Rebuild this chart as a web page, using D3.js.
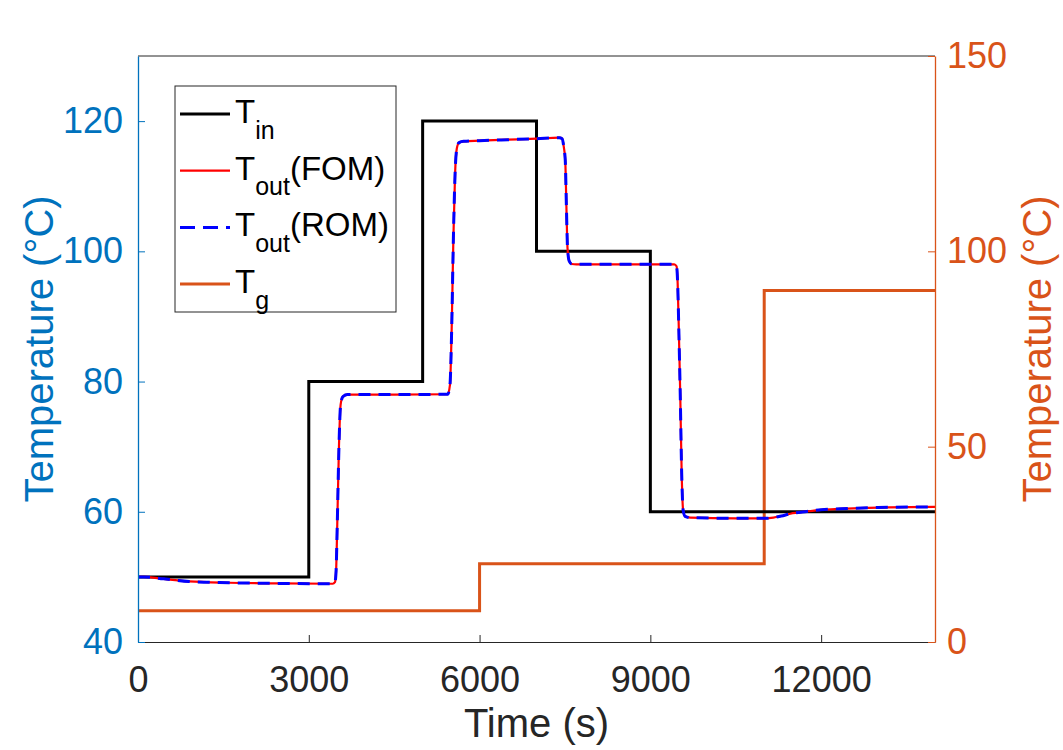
<!DOCTYPE html>
<html>
<head>
<meta charset="utf-8">
<script src="https://cdn.jsdelivr.net/npm/d3@7"></script>
<style>
  html, body { margin: 0; padding: 0; background: #fff; }
  svg { display: block; font-family: "Liberation Sans", Arial, Helvetica, sans-serif; }
</style>
</head>
<body>
<svg id="chart" width="1063" height="750"></svg>
<script>
// ---- data ----
const tinTimes  = [0, 3000, 5000, 7000, 9000, 14000];
const tinValues = [50, 80, 120, 100, 60, 60];

const tgTimes  = [0, 6000, 11000, 14000];
const tgValues = [8, 20, 90, 90];

const toutTimes = [0, 100, 450, 900, 1600, 2500, 3420, 3460, 3480, 3500, 3530, 3560, 3600, 3680,
  4500, 5440, 5480, 5510, 5540, 5570, 5600, 5640, 5720, 6000, 6500, 7000, 7400, 7450, 7480, 7505,
  7525, 7545, 7575, 7620, 7700, 8500, 9420, 9460, 9480, 9500, 9525, 9550, 9575, 9610, 9700,
  10500, 11000, 11160, 11300, 11460, 11750, 12000, 12340, 13000, 14000];
const toutFOM = [50.0, 50.0, 49.7, 49.3, 49.1, 49.0, 48.95, 49.2, 51, 58, 70, 76.5, 77.7, 78.0,
  78.0, 78.05, 79.5, 88, 102, 112, 115.8, 116.7, 116.9, 117.0, 117.15, 117.3, 117.45, 117.3, 116, 114,
  107, 100.5, 98.5, 98.05, 98.0, 98.0, 98.0, 97.7, 95, 88, 78, 66, 60.3, 59.3, 59.1,
  59.0, 59.0, 59.1, 59.35, 59.7, 60.05, 60.3, 60.45, 60.65, 60.75];
const toutROM = [50.0, 50.0, 49.7, 49.3, 49.1, 49.0, 48.95, 49.2, 51, 58, 70, 76.5, 77.7, 78.0,
  78.0, 78.05, 79.5, 88, 102, 112, 115.8, 116.7, 116.9, 117.0, 117.15, 117.3, 117.45, 117.3, 116, 114,
  107, 100.5, 98.5, 98.05, 98.0, 98.0, 98.0, 97.7, 95, 88, 78, 66, 60.3, 59.3, 59.1,
  59.0, 59.0, 59.1, 59.35, 59.7, 60.05, 60.3, 60.45, 60.65, 60.75];

const xTicks = [0, 3000, 6000, 9000, 12000];
const yLeftTicks = [40, 60, 80, 100, 120];
const yRightTicks = [0, 50, 100, 150];

const legendLabels = [
  {main: "T", sub: "in", rest: ""},
  {main: "T", sub: "out", rest: "(FOM)"},
  {main: "T", sub: "out", rest: "(ROM)"},
  {main: "T", sub: "g", rest: ""}
];

// ---- layout ----
const L = 138, R = 935, T = 56, B = 642;
const cLeft = "#0072BD", cRight = "#D95319", cAx = "#262626";

const svg = d3.select("#chart");
const x = d3.scaleLinear().domain([0, 14000]).range([L, R]);
const yL = d3.scaleLinear().domain([40, 130]).range([B, T]);
const yR = d3.scaleLinear().domain([0, 150]).range([B, T]);

svg.append("rect").attr("x", 0).attr("y", 0).attr("width", 1063).attr("height", 750).attr("fill", "#fff");

svg.append("defs").append("clipPath").attr("id", "clip")
  .append("rect").attr("x", L).attr("y", T).attr("width", R - L).attr("height", B - T);

const plot = svg.append("g").attr("clip-path", "url(#clip)");

// Tg (right axis)
const tgData = tgTimes.map((t, i) => [t, tgValues[i]]);
plot.append("path").datum(tgData)
  .attr("fill", "none").attr("stroke", cRight).attr("stroke-width", 3)
  .attr("d", d3.line().x(d => x(d[0])).y(d => yR(d[1])).curve(d3.curveStepAfter));

// Tin
const tinData = tinTimes.map((t, i) => [t, tinValues[i]]);
plot.append("path").datum(tinData)
  .attr("fill", "none").attr("stroke", "#000").attr("stroke-width", 3)
  .attr("d", d3.line().x(d => x(d[0])).y(d => yL(d[1])).curve(d3.curveStepAfter));

// Tout FOM
const fomData = toutTimes.map((t, i) => [t, toutFOM[i]]);
plot.append("path").datum(fomData)
  .attr("fill", "none").attr("stroke", "#FF0000").attr("stroke-width", 2.2)
  .attr("d", d3.line().x(d => x(d[0])).y(d => yL(d[1])).curve(d3.curveMonotoneX));

// Tout ROM
const romData = toutTimes.map((t, i) => [t, toutROM[i]]);
plot.append("path").datum(romData)
  .attr("fill", "none").attr("stroke", "#0000FF").attr("stroke-width", 3)
  .attr("stroke-dasharray", "12,8")
  .attr("d", d3.line().x(d => x(d[0])).y(d => yL(d[1])).curve(d3.curveMonotoneX));

// ---- axes ----
const tickFont = 36;
// bottom
const xAxis = svg.append("g").attr("transform", `translate(0,${B})`)
  .call(d3.axisBottom(x).tickValues(xTicks).tickSizeInner(-7).tickSizeOuter(0).tickPadding(24).tickFormat(d3.format("d")));
xAxis.select(".domain").attr("stroke", cAx).attr("stroke-width", 1);
xAxis.selectAll(".tick line").attr("stroke", cAx);
xAxis.selectAll(".tick text").attr("fill", cAx).attr("font-size", tickFont).attr("font-family", null);
// top
svg.append("line").attr("x1", L).attr("x2", R).attr("y1", T).attr("y2", T).attr("stroke", cAx).attr("stroke-width", 1);

// left
const yAxisL = svg.append("g").attr("transform", `translate(${L},0)`)
  .call(d3.axisLeft(yL).tickValues(yLeftTicks).tickSizeInner(-7).tickSizeOuter(0).tickPadding(15));
yAxisL.select(".domain").attr("stroke", cLeft).attr("stroke-width", 1.3);
yAxisL.selectAll(".tick line").attr("stroke", cLeft);
yAxisL.selectAll(".tick text").attr("fill", cLeft).attr("font-size", tickFont).attr("font-family", null);

// right
const yAxisR = svg.append("g").attr("transform", `translate(${R},0)`)
  .call(d3.axisRight(yR).tickValues(yRightTicks).tickSizeInner(-7).tickSizeOuter(0).tickPadding(12));
yAxisR.select(".domain").attr("stroke", cRight).attr("stroke-width", 1.3);
yAxisR.selectAll(".tick line").attr("stroke", cRight);
yAxisR.selectAll(".tick text").attr("fill", cRight).attr("font-size", tickFont).attr("font-family", null);

// titles
const titleFont = 40;
svg.append("text").attr("x", (L + R) / 2).attr("y", 737).attr("text-anchor", "middle")
  .attr("font-size", titleFont).attr("fill", cAx).text("Time (s)");
svg.append("text").attr("transform", `translate(53,${(T + B) / 2}) rotate(-90)`).attr("text-anchor", "middle")
  .attr("font-size", titleFont).attr("fill", cLeft).text("Temperature (°C)");
svg.append("text").attr("transform", `translate(1051,${(T + B) / 2}) rotate(-90)`).attr("text-anchor", "middle")
  .attr("font-size", titleFont).attr("fill", cRight).text("Temperature (°C)");

// ---- legend ----
const lgX = 175, lgY = 86, lgW = 221, lgH = 226, lgStep = 56.7, lgFirst = 114;
const lg = svg.append("g");
lg.append("rect").attr("x", lgX).attr("y", lgY).attr("width", lgW).attr("height", lgH)
  .attr("fill", "#fff").attr("stroke", cAx).attr("stroke-width", 1);
const lgStyles = [
  {stroke: "#000", w: 3, dash: null},
  {stroke: "#FF0000", w: 2.2, dash: null},
  {stroke: "#0000FF", w: 3, dash: "15,8"},
  {stroke: cRight, w: 3, dash: null}
];
legendLabels.forEach((lab, i) => {
  const yy = lgFirst + i * lgStep;
  const st = lgStyles[i];
  lg.append("line").attr("x1", 180).attr("x2", 230).attr("y1", yy).attr("y2", yy)
    .attr("stroke", st.stroke).attr("stroke-width", st.w).attr("stroke-dasharray", st.dash);
  const t = lg.append("text").attr("x", 235).attr("y", yy + 9).attr("font-size", 33).attr("fill", "#000");
  t.append("tspan").text(lab.main);
  t.append("tspan").attr("font-size", 25).attr("dy", 15.5).text(lab.sub);
  if (lab.rest) t.append("tspan").attr("font-size", 33).attr("dy", -15.5).text(lab.rest);
});
</script>
</body>
</html>
